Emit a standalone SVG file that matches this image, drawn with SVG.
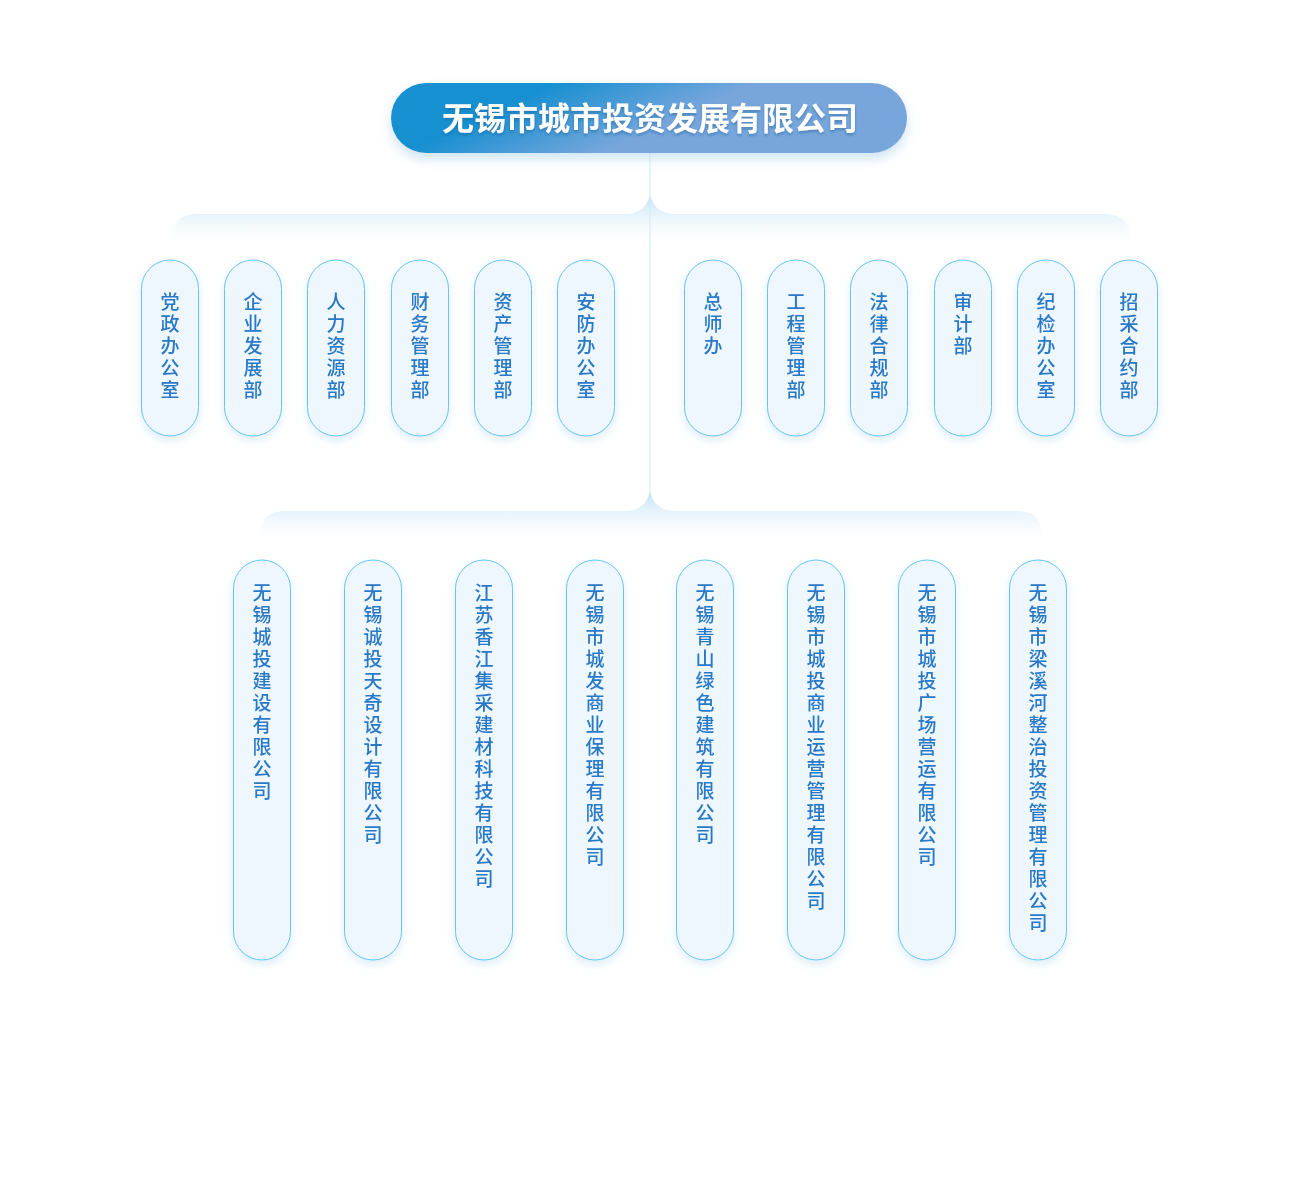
<svg xmlns="http://www.w3.org/2000/svg" width="1300" height="1200" viewBox="0 0 1300 1200">
<style>
.n rect{fill:#edf7fd;stroke:#66c3f4;stroke-width:1}
.n text{font-family:"Noto Sans CJK SC","Noto Sans",sans-serif;font-size:19px;font-weight:500;fill:#2a78c8;text-anchor:middle}
.t{font-family:"Noto Sans CJK SC","Noto Sans",sans-serif;font-size:32px;font-weight:bold;fill:#fff;text-anchor:middle}
</style>
<defs>
<linearGradient id="rg" x1="0" y1="0" x2="1" y2="0.3"><stop offset="0.3" stop-color="#1990d1"/><stop offset="0.65" stop-color="#78a6dc"/></linearGradient>
<linearGradient id="bg" x1="0" y1="0" x2="0" y2="1"><stop offset="0" stop-color="#c2e1f6"/><stop offset="1" stop-color="#ffffff" stop-opacity="0"/></linearGradient>
<filter id="sh" x="-20%" y="-20%" width="140%" height="160%"><feDropShadow dx="0" dy="6" stdDeviation="6" flood-color="#9ccbe9" flood-opacity="0.5"/></filter>
<filter id="sh2" x="-40%" y="-20%" width="180%" height="140%"><feDropShadow dx="0" dy="4" stdDeviation="5" flood-color="#b8dcf2" flood-opacity="0.5"/></filter>
<filter id="ts"><feDropShadow dx="0" dy="2" stdDeviation="1.5" flood-color="#0b5f95" flood-opacity="0.5"/></filter>
</defs>
<rect width="1300" height="1200" fill="#fff"/>
<g id="connectors">
<path d="M172 248 V239 Q172 214 197 214 H625 Q645 214 650 195 Q655 214 675 214 H1105 Q1130 214 1130 239 V248 Z" fill="url(#bg)"/>
<path d="M260 545 V536 Q260 511 285 511 H625 Q645 511 650 492 Q655 511 675 511 H1017 Q1042 511 1042 536 V545 Z" fill="url(#bg)"/>
<line x1="650" y1="153" x2="650" y2="495" stroke="#cde8f8" stroke-width="1"/>
</g>
<g id="root" filter="url(#sh)">
<rect x="391" y="83" width="516" height="70" rx="35" fill="url(#rg)"/>
<text class="t" x="650" y="130" filter="url(#ts)">无锡市城市投资发展有限公司</text>
</g>
<g id="d1" class="n" filter="url(#sh2)"><rect x="141.5" y="260" width="57" height="176" rx="28.5"/><text x="170" y="309">党<tspan x="170" dy="22">政</tspan><tspan x="170" dy="22">办</tspan><tspan x="170" dy="22">公</tspan><tspan x="170" dy="22">室</tspan></text></g>
<g id="d2" class="n" filter="url(#sh2)"><rect x="224.5" y="260" width="57" height="176" rx="28.5"/><text x="253" y="309">企<tspan x="253" dy="22">业</tspan><tspan x="253" dy="22">发</tspan><tspan x="253" dy="22">展</tspan><tspan x="253" dy="22">部</tspan></text></g>
<g id="d3" class="n" filter="url(#sh2)"><rect x="307.5" y="260" width="57" height="176" rx="28.5"/><text x="336" y="309">人<tspan x="336" dy="22">力</tspan><tspan x="336" dy="22">资</tspan><tspan x="336" dy="22">源</tspan><tspan x="336" dy="22">部</tspan></text></g>
<g id="d4" class="n" filter="url(#sh2)"><rect x="391.5" y="260" width="57" height="176" rx="28.5"/><text x="420" y="309">财<tspan x="420" dy="22">务</tspan><tspan x="420" dy="22">管</tspan><tspan x="420" dy="22">理</tspan><tspan x="420" dy="22">部</tspan></text></g>
<g id="d5" class="n" filter="url(#sh2)"><rect x="474.5" y="260" width="57" height="176" rx="28.5"/><text x="503" y="309">资<tspan x="503" dy="22">产</tspan><tspan x="503" dy="22">管</tspan><tspan x="503" dy="22">理</tspan><tspan x="503" dy="22">部</tspan></text></g>
<g id="d6" class="n" filter="url(#sh2)"><rect x="557.5" y="260" width="57" height="176" rx="28.5"/><text x="586" y="309">安<tspan x="586" dy="22">防</tspan><tspan x="586" dy="22">办</tspan><tspan x="586" dy="22">公</tspan><tspan x="586" dy="22">室</tspan></text></g>
<g id="d7" class="n" filter="url(#sh2)"><rect x="684.5" y="260" width="57" height="176" rx="28.5"/><text x="713" y="309">总<tspan x="713" dy="22">师</tspan><tspan x="713" dy="22">办</tspan></text></g>
<g id="d8" class="n" filter="url(#sh2)"><rect x="767.5" y="260" width="57" height="176" rx="28.5"/><text x="796" y="309">工<tspan x="796" dy="22">程</tspan><tspan x="796" dy="22">管</tspan><tspan x="796" dy="22">理</tspan><tspan x="796" dy="22">部</tspan></text></g>
<g id="d9" class="n" filter="url(#sh2)"><rect x="850.5" y="260" width="57" height="176" rx="28.5"/><text x="879" y="309">法<tspan x="879" dy="22">律</tspan><tspan x="879" dy="22">合</tspan><tspan x="879" dy="22">规</tspan><tspan x="879" dy="22">部</tspan></text></g>
<g id="d10" class="n" filter="url(#sh2)"><rect x="934.5" y="260" width="57" height="176" rx="28.5"/><text x="963" y="309">审<tspan x="963" dy="22">计</tspan><tspan x="963" dy="22">部</tspan></text></g>
<g id="d11" class="n" filter="url(#sh2)"><rect x="1017.5" y="260" width="57" height="176" rx="28.5"/><text x="1046" y="309">纪<tspan x="1046" dy="22">检</tspan><tspan x="1046" dy="22">办</tspan><tspan x="1046" dy="22">公</tspan><tspan x="1046" dy="22">室</tspan></text></g>
<g id="d12" class="n" filter="url(#sh2)"><rect x="1100.5" y="260" width="57" height="176" rx="28.5"/><text x="1129" y="309">招<tspan x="1129" dy="22">采</tspan><tspan x="1129" dy="22">合</tspan><tspan x="1129" dy="22">约</tspan><tspan x="1129" dy="22">部</tspan></text></g>
<g id="c1" class="n" filter="url(#sh2)"><rect x="233.5" y="560" width="57" height="400" rx="28.5"/><text x="262" y="600">无<tspan x="262" dy="22">锡</tspan><tspan x="262" dy="22">城</tspan><tspan x="262" dy="22">投</tspan><tspan x="262" dy="22">建</tspan><tspan x="262" dy="22">设</tspan><tspan x="262" dy="22">有</tspan><tspan x="262" dy="22">限</tspan><tspan x="262" dy="22">公</tspan><tspan x="262" dy="22">司</tspan></text></g>
<g id="c2" class="n" filter="url(#sh2)"><rect x="344.5" y="560" width="57" height="400" rx="28.5"/><text x="373" y="600">无<tspan x="373" dy="22">锡</tspan><tspan x="373" dy="22">诚</tspan><tspan x="373" dy="22">投</tspan><tspan x="373" dy="22">天</tspan><tspan x="373" dy="22">奇</tspan><tspan x="373" dy="22">设</tspan><tspan x="373" dy="22">计</tspan><tspan x="373" dy="22">有</tspan><tspan x="373" dy="22">限</tspan><tspan x="373" dy="22">公</tspan><tspan x="373" dy="22">司</tspan></text></g>
<g id="c3" class="n" filter="url(#sh2)"><rect x="455.5" y="560" width="57" height="400" rx="28.5"/><text x="484" y="600">江<tspan x="484" dy="22">苏</tspan><tspan x="484" dy="22">香</tspan><tspan x="484" dy="22">江</tspan><tspan x="484" dy="22">集</tspan><tspan x="484" dy="22">采</tspan><tspan x="484" dy="22">建</tspan><tspan x="484" dy="22">材</tspan><tspan x="484" dy="22">科</tspan><tspan x="484" dy="22">技</tspan><tspan x="484" dy="22">有</tspan><tspan x="484" dy="22">限</tspan><tspan x="484" dy="22">公</tspan><tspan x="484" dy="22">司</tspan></text></g>
<g id="c4" class="n" filter="url(#sh2)"><rect x="566.5" y="560" width="57" height="400" rx="28.5"/><text x="595" y="600">无<tspan x="595" dy="22">锡</tspan><tspan x="595" dy="22">市</tspan><tspan x="595" dy="22">城</tspan><tspan x="595" dy="22">发</tspan><tspan x="595" dy="22">商</tspan><tspan x="595" dy="22">业</tspan><tspan x="595" dy="22">保</tspan><tspan x="595" dy="22">理</tspan><tspan x="595" dy="22">有</tspan><tspan x="595" dy="22">限</tspan><tspan x="595" dy="22">公</tspan><tspan x="595" dy="22">司</tspan></text></g>
<g id="c5" class="n" filter="url(#sh2)"><rect x="676.5" y="560" width="57" height="400" rx="28.5"/><text x="705" y="600">无<tspan x="705" dy="22">锡</tspan><tspan x="705" dy="22">青</tspan><tspan x="705" dy="22">山</tspan><tspan x="705" dy="22">绿</tspan><tspan x="705" dy="22">色</tspan><tspan x="705" dy="22">建</tspan><tspan x="705" dy="22">筑</tspan><tspan x="705" dy="22">有</tspan><tspan x="705" dy="22">限</tspan><tspan x="705" dy="22">公</tspan><tspan x="705" dy="22">司</tspan></text></g>
<g id="c6" class="n" filter="url(#sh2)"><rect x="787.5" y="560" width="57" height="400" rx="28.5"/><text x="816" y="600">无<tspan x="816" dy="22">锡</tspan><tspan x="816" dy="22">市</tspan><tspan x="816" dy="22">城</tspan><tspan x="816" dy="22">投</tspan><tspan x="816" dy="22">商</tspan><tspan x="816" dy="22">业</tspan><tspan x="816" dy="22">运</tspan><tspan x="816" dy="22">营</tspan><tspan x="816" dy="22">管</tspan><tspan x="816" dy="22">理</tspan><tspan x="816" dy="22">有</tspan><tspan x="816" dy="22">限</tspan><tspan x="816" dy="22">公</tspan><tspan x="816" dy="22">司</tspan></text></g>
<g id="c7" class="n" filter="url(#sh2)"><rect x="898.5" y="560" width="57" height="400" rx="28.5"/><text x="927" y="600">无<tspan x="927" dy="22">锡</tspan><tspan x="927" dy="22">市</tspan><tspan x="927" dy="22">城</tspan><tspan x="927" dy="22">投</tspan><tspan x="927" dy="22">广</tspan><tspan x="927" dy="22">场</tspan><tspan x="927" dy="22">营</tspan><tspan x="927" dy="22">运</tspan><tspan x="927" dy="22">有</tspan><tspan x="927" dy="22">限</tspan><tspan x="927" dy="22">公</tspan><tspan x="927" dy="22">司</tspan></text></g>
<g id="c8" class="n" filter="url(#sh2)"><rect x="1009.5" y="560" width="57" height="400" rx="28.5"/><text x="1038" y="600">无<tspan x="1038" dy="22">锡</tspan><tspan x="1038" dy="22">市</tspan><tspan x="1038" dy="22">梁</tspan><tspan x="1038" dy="22">溪</tspan><tspan x="1038" dy="22">河</tspan><tspan x="1038" dy="22">整</tspan><tspan x="1038" dy="22">治</tspan><tspan x="1038" dy="22">投</tspan><tspan x="1038" dy="22">资</tspan><tspan x="1038" dy="22">管</tspan><tspan x="1038" dy="22">理</tspan><tspan x="1038" dy="22">有</tspan><tspan x="1038" dy="22">限</tspan><tspan x="1038" dy="22">公</tspan><tspan x="1038" dy="22">司</tspan></text></g>
</svg>
